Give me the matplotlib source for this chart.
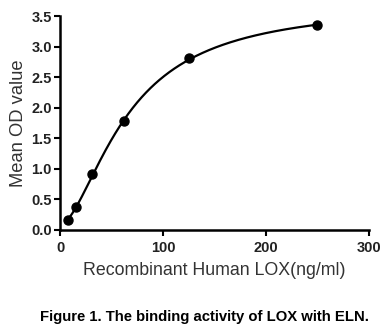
import numpy as np
import matplotlib
matplotlib.use('Agg')
import matplotlib.pyplot as plt

conc = [7.8, 15.6, 31.25, 62.5, 125, 250]
od = [0.17, 0.37, 0.91, 1.78, 2.81, 3.35]

x_ticks = [0, 100, 200, 300]
y_ticks = [0.0, 0.5, 1.0, 1.5, 2.0, 2.5, 3.0, 3.5]


def fit_4pl(x, y):
    """Least squares 4PL fit: y = d + (a-d)/(1+(x/c)^b), grid over b and c"""
    x = np.asarray(x, dtype=float)
    y = np.asarray(y, dtype=float)
    best = None
    for b in np.linspace(0.8, 3.0, 111):
        for c in np.linspace(20, 400, 381):
            g = 1.0 / (1.0 + (x / c) ** b)
            A = np.column_stack([g, 1 - g])
            coef, *_ = np.linalg.lstsq(A, y, rcond=None)
            err = np.sum((A @ coef - y) ** 2)
            if best is None or err < best[0]:
                best = (err, coef[0], b, c, coef[1])
    return best[1:]


plt.rcParams['font.family'] = ['Liberation Sans', 'DejaVu Sans']

fig = plt.figure(figsize=(3.85, 3.29), dpi=100)
ax = fig.add_axes([0.156, 0.301, 0.802, 0.650])

a, b, c, d = fit_4pl(conc, od)
xs = np.linspace(0.75 * min(conc), max(conc), 400)
ax.plot(xs, d + (a - d) / (1 + (xs / c) ** b), color='black', lw=1.6)
ax.plot(conc, od, 'o', color='black', ms=6.5)

ax.set_xlim(0, 300)
ax.set_ylim(0, 3.5)
ax.set_xticks(x_ticks)
ax.set_yticks(y_ticks)
ax.set_yticklabels(['%.1f' % v for v in y_ticks])
for lab in ax.get_xticklabels() + ax.get_yticklabels():
    lab.set_fontweight('bold')
    lab.set_fontsize(10.5)
    lab.set_color('#222222')

for side in ['top', 'right']:
    ax.spines[side].set_visible(False)
for side in ['left', 'bottom']:
    ax.spines[side].set_linewidth(1.8)
ax.tick_params(direction='out', length=4, width=1.5)
ax.tick_params(axis='x', pad=4)
ax.tick_params(axis='y', pad=2)

ax.set_xlabel('Recombinant Human LOX(ng/ml)', fontsize=12.8, color='#333333', labelpad=5)
ax.set_ylabel('Mean OD value', fontsize=13.2, color='#333333', labelpad=3)

fig.text(0.53, 0.036, 'Figure 1. The binding activity of LOX with ELN.',
         ha='center', va='center', fontsize=10.7, fontweight='bold')

fig.savefig('out.png', dpi=100)
